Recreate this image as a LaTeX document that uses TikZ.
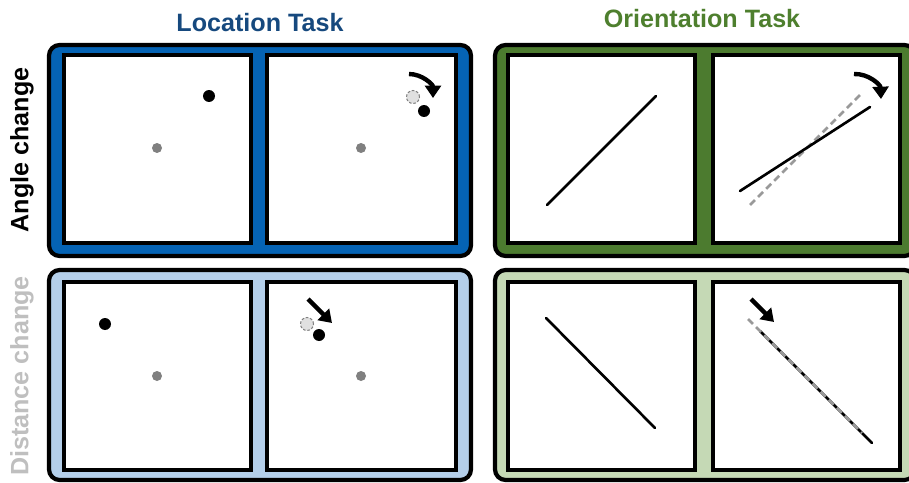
\documentclass[tikz,border=0pt]{standalone}
\usepackage{fontspec}
\setmainfont{Liberation Sans}
\usetikzlibrary{arrows.meta}
\definecolor{locblue}{HTML}{0563B4}
\definecolor{loclight}{HTML}{B4CFEA}
\definecolor{loctitle}{HTML}{16497E}
\definecolor{origreen}{HTML}{4C7B2F}
\definecolor{orilight}{HTML}{C5D9B5}
\definecolor{orititle}{HTML}{4E7F2E}
\definecolor{distgray}{HTML}{BFBFBF}

\begin{document}
\begin{tikzpicture}[x=0.02cm,y=-0.02cm,
  taskbox/.style={draw=black,line width=2.4pt,rounded corners=6pt},
  panel/.style={draw=black,fill=white,line width=2pt},
  title/.style={font=\bfseries\fontsize{14.3}{16}\selectfont,anchor=base},
  rowlabel/.style={font=\bfseries\fontsize{14.3}{16}\selectfont,rotate=90},
  target/.style={circle,fill=black,inner sep=0pt,minimum size=0.24cm},
  fixation/.style={circle,fill=black!50,inner sep=0pt,minimum size=0.2cm},
  ghost/.style={circle,draw=black!50,fill=black!12,dashed,dash pattern=on 1.5pt off 1pt,line width=0.6pt,inner sep=0pt,minimum size=0.26cm},
  bar/.style={line width=1.5pt,line cap=round},
  oldbar/.style={line width=1.5pt,black!40,dash pattern=on 4pt off 2.5pt},
  move/.style={line width=2.5pt,-{Triangle[length=7pt,width=9pt]}}]
\useasboundingbox (0,0) rectangle (909,483);

% titles and row labels
\node[title,text=loctitle] (tloc) at (260,32) {Location Task};
\node[title,text=orititle] (tori) at (702,28) {Orientation Task};
\node[rowlabel] (rangle) at (22,150) {Angle change};
\node[rowlabel,text=distgray] (rdist) at (22,376) {Distance change};

% task frames
\draw[taskbox,fill=locblue] (49,45) rectangle (471,256);
\draw[taskbox,fill=loclight] (49,270) rectangle (471,480);
\draw[taskbox,fill=origreen] (495,45) rectangle (915,256);
\draw[taskbox,fill=orilight] (495,270) rectangle (915,480);

% panels
\draw[panel] (64,55) rectangle (251,243);
\draw[panel] (267,55) rectangle (456,243);
\draw[panel] (64,282) rectangle (251,470);
\draw[panel] (267,282) rectangle (456,470);
\draw[panel] (508,55) rectangle (695,243);
\draw[panel] (713,55) rectangle (900,243);
\draw[panel] (508,282) rectangle (695,470);
\draw[panel] (713,282) rectangle (900,470);

% location, angle change
\node[fixation] (fa1) at (157,148) {};
\node[target] (ta1) at (209,96) {};
\node[fixation] (fa2) at (361,148) {};
\node[ghost] (ga2) at (413,97) {};
\node[target] (ta2) at (424,111) {};
\draw[move] (409,74) to[bend left=45] (433,98);

% location, distance change
\node[fixation] (fd1) at (157,376) {};
\node[target] (td1) at (105,324) {};
\node[fixation] (fd2) at (361,376) {};
\node[ghost] (gd2) at (307,324) {};
\node[target] (td2) at (319,335) {};
\draw[move] (308,299) -- (332,323);

% orientation, angle change
\draw[bar] (547,205) -- (656,96);
\draw[oldbar] (750,205) -- (862,93);
\draw[bar] (740,191) -- (870,107);
\draw[move] (854,74) to[bend left=45] (881,99);

% orientation, distance change
\draw[bar] (546,318) -- (655,428);
\draw[bar] (760,331) -- (872,443);
\draw[oldbar] (748,319) -- (862,433);
\draw[move] (751,299) -- (774,322);
\end{tikzpicture}
\end{document}
